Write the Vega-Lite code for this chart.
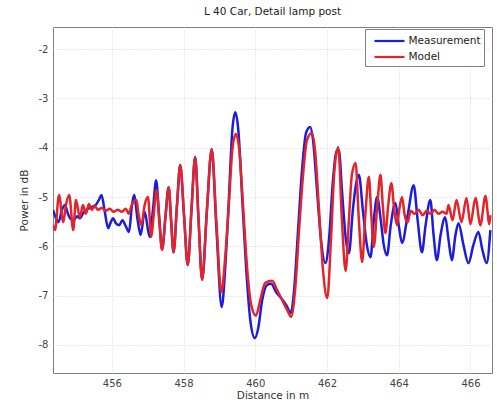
{
"$schema": "https://vega.github.io/schema/vega-lite/v6.json",
"width": 439, "height": 346,
"autosize": {"type": "none"},
"padding": {"left": 53, "top": 27, "right": 5, "bottom": 30},
"background": "white",
"config": {"font": "DejaVu Sans", "view": {"stroke": "#7f7f7f", "strokeWidth": 1}},
"title": {"text": "L 40 Car, Detail lamp post", "fontSize": 10.5, "fontWeight": "normal", "color": "#222222", "offset": 10},
"datasets": {
"meas": [
{"x":454.36,"y":-5.26},{"x":454.443,"y":-5.43},{"x":454.513,"y":-5.51},{"x":454.61,"y":-5.26},{"x":454.693,"y":-5.16},{"x":454.777,"y":-5.34},{"x":454.86,"y":-5.45},{"x":454.943,"y":-5.47},{"x":455.027,"y":-5.39},{"x":455.11,"y":-5.43},{"x":455.221,"y":-5.30},{"x":455.332,"y":-5.24},{"x":455.443,"y":-5.20},{"x":455.554,"y":-5.16},{"x":455.638,"y":-5.06},{"x":455.713,"y":-4.96},{"x":455.804,"y":-5.30},{"x":455.896,"y":-5.63},{"x":455.971,"y":-5.51},{"x":456.035,"y":-5.43},{"x":456.11,"y":-5.53},{"x":456.202,"y":-5.57},{"x":456.296,"y":-5.47},{"x":456.388,"y":-5.59},{"x":456.479,"y":-5.71},{"x":456.554,"y":-5.22},{"x":456.618,"y":-4.96},{"x":456.721,"y":-5.47},{"x":456.804,"y":-5.77},{"x":456.916,"y":-5.30},{"x":457.054,"y":-5.81},{"x":457.152,"y":-5.22},{"x":457.235,"y":-4.66},{"x":457.318,"y":-5.37},{"x":457.402,"y":-6.07},{"x":457.499,"y":-5.37},{"x":457.582,"y":-4.80},{"x":457.652,"y":-5.47},{"x":457.721,"y":-6.12},{"x":457.818,"y":-5.16},{"x":457.907,"y":-4.35},{"x":458.013,"y":-5.37},{"x":458.118,"y":-6.38},{"x":458.221,"y":-5.26},{"x":458.324,"y":-4.19},{"x":458.416,"y":-5.43},{"x":458.518,"y":-6.68},{"x":458.652,"y":-5.26},{"x":458.785,"y":-4.03},{"x":458.916,"y":-5.63},{"x":459.063,"y":-7.23},{"x":459.166,"y":-6.38},{"x":459.249,"y":-5.26},{"x":459.36,"y":-3.64},{"x":459.443,"y":-3.28},{"x":459.527,"y":-3.64},{"x":459.638,"y":-5.06},{"x":459.749,"y":-6.48},{"x":459.86,"y":-7.49},{"x":459.985,"y":-7.86},{"x":460.082,"y":-7.66},{"x":460.193,"y":-7.09},{"x":460.332,"y":-6.78},{"x":460.443,"y":-6.76},{"x":460.582,"y":-6.93},{"x":460.721,"y":-7.05},{"x":460.86,"y":-7.19},{"x":460.991,"y":-7.35},{"x":461.082,"y":-6.89},{"x":461.193,"y":-5.67},{"x":461.304,"y":-4.45},{"x":461.416,"y":-3.70},{"x":461.527,"y":-3.58},{"x":461.61,"y":-3.84},{"x":461.721,"y":-4.86},{"x":461.832,"y":-5.87},{"x":461.957,"y":-6.34},{"x":462.054,"y":-5.87},{"x":462.166,"y":-4.66},{"x":462.277,"y":-4.05},{"x":462.332,"y":-4.05},{"x":462.416,"y":-4.86},{"x":462.527,"y":-5.87},{"x":462.61,"y":-6.14},{"x":462.721,"y":-5.26},{"x":462.804,"y":-4.76},{"x":462.888,"y":-4.55},{"x":462.999,"y":-5.26},{"x":463.11,"y":-5.97},{"x":463.213,"y":-6.22},{"x":463.304,"y":-5.47},{"x":463.396,"y":-5.00},{"x":463.499,"y":-5.47},{"x":463.582,"y":-5.97},{"x":463.674,"y":-6.18},{"x":463.777,"y":-5.57},{"x":463.907,"y":-5.12},{"x":463.999,"y":-5.57},{"x":464.091,"y":-5.93},{"x":464.249,"y":-5.37},{"x":464.416,"y":-4.76},{"x":464.527,"y":-5.47},{"x":464.646,"y":-6.12},{"x":464.749,"y":-5.57},{"x":464.88,"y":-5.06},{"x":464.971,"y":-5.77},{"x":465.063,"y":-6.28},{"x":465.166,"y":-5.77},{"x":465.296,"y":-5.41},{"x":465.388,"y":-5.87},{"x":465.48,"y":-6.28},{"x":465.582,"y":-5.77},{"x":465.666,"y":-5.53},{"x":465.804,"y":-5.97},{"x":465.943,"y":-6.34},{"x":466.082,"y":-5.97},{"x":466.221,"y":-5.71},{"x":466.332,"y":-6.07},{"x":466.452,"y":-6.34},{"x":466.554,"y":-5.67}
],
"model": [
{"x":454.36,"y":-5.57},{"x":454.416,"y":-5.67},{"x":454.527,"y":-4.96},{"x":454.646,"y":-5.51},{"x":454.721,"y":-5.16},{"x":454.813,"y":-4.96},{"x":454.924,"y":-5.67},{"x":454.999,"y":-5.06},{"x":455.11,"y":-5.41},{"x":455.193,"y":-5.16},{"x":455.277,"y":-5.34},{"x":455.36,"y":-5.14},{"x":455.443,"y":-5.26},{"x":455.527,"y":-5.18},{"x":455.61,"y":-5.26},{"x":455.721,"y":-5.22},{"x":455.832,"y":-5.28},{"x":455.943,"y":-5.24},{"x":456.054,"y":-5.30},{"x":456.166,"y":-5.26},{"x":456.277,"y":-5.30},{"x":456.388,"y":-5.24},{"x":456.471,"y":-5.34},{"x":456.554,"y":-5.16},{"x":456.685,"y":-5.06},{"x":456.749,"y":-5.37},{"x":456.824,"y":-5.57},{"x":456.916,"y":-5.16},{"x":457.007,"y":-5.00},{"x":457.102,"y":-5.81},{"x":457.166,"y":-5.37},{"x":457.249,"y":-4.86},{"x":457.332,"y":-5.57},{"x":457.402,"y":-6.07},{"x":457.499,"y":-5.37},{"x":457.591,"y":-4.80},{"x":457.652,"y":-5.47},{"x":457.721,"y":-6.12},{"x":457.818,"y":-5.16},{"x":457.907,"y":-4.35},{"x":458.013,"y":-5.37},{"x":458.118,"y":-6.38},{"x":458.221,"y":-5.26},{"x":458.324,"y":-4.19},{"x":458.416,"y":-5.43},{"x":458.518,"y":-6.68},{"x":458.652,"y":-5.26},{"x":458.785,"y":-4.03},{"x":458.916,"y":-5.51},{"x":459.054,"y":-6.93},{"x":459.166,"y":-6.18},{"x":459.263,"y":-5.16},{"x":459.36,"y":-4.05},{"x":459.457,"y":-3.72},{"x":459.554,"y":-4.05},{"x":459.666,"y":-5.26},{"x":459.777,"y":-6.48},{"x":459.888,"y":-7.19},{"x":460.018,"y":-7.41},{"x":460.138,"y":-7.09},{"x":460.277,"y":-6.74},{"x":460.471,"y":-6.70},{"x":460.61,"y":-6.89},{"x":460.749,"y":-7.09},{"x":460.888,"y":-7.29},{"x":460.999,"y":-7.43},{"x":461.11,"y":-6.89},{"x":461.221,"y":-5.67},{"x":461.332,"y":-4.55},{"x":461.443,"y":-3.84},{"x":461.574,"y":-3.70},{"x":461.666,"y":-4.05},{"x":461.777,"y":-5.26},{"x":461.888,"y":-6.48},{"x":462.007,"y":-7.05},{"x":462.11,"y":-5.87},{"x":462.207,"y":-4.45},{"x":462.313,"y":-3.99},{"x":462.416,"y":-5.47},{"x":462.518,"y":-6.50},{"x":462.61,"y":-5.47},{"x":462.693,"y":-4.55},{"x":462.796,"y":-4.31},{"x":462.888,"y":-5.47},{"x":462.98,"y":-6.32},{"x":463.068,"y":-5.37},{"x":463.166,"y":-4.59},{"x":463.235,"y":-5.37},{"x":463.304,"y":-6.01},{"x":463.402,"y":-5.16},{"x":463.49,"y":-4.55},{"x":463.554,"y":-5.16},{"x":463.629,"y":-5.73},{"x":463.707,"y":-5.16},{"x":463.796,"y":-4.72},{"x":463.874,"y":-5.26},{"x":463.952,"y":-5.57},{"x":464.013,"y":-5.26},{"x":464.091,"y":-5.00},{"x":464.166,"y":-5.37},{"x":464.249,"y":-5.51},{"x":464.332,"y":-5.28},{"x":464.443,"y":-5.34},{"x":464.554,"y":-5.26},{"x":464.666,"y":-5.37},{"x":464.777,"y":-5.28},{"x":464.888,"y":-5.34},{"x":464.999,"y":-5.26},{"x":465.11,"y":-5.34},{"x":465.221,"y":-5.30},{"x":465.332,"y":-5.34},{"x":465.388,"y":-5.16},{"x":465.499,"y":-5.47},{"x":465.61,"y":-5.06},{"x":465.749,"y":-5.51},{"x":465.888,"y":-5.02},{"x":465.999,"y":-5.55},{"x":466.138,"y":-5.02},{"x":466.277,"y":-5.57},{"x":466.416,"y":-4.98},{"x":466.527,"y":-5.55},{"x":466.554,"y":-5.37}
]
},
"layer": [
{
"data": {"name": "meas"},
"transform": [{"calculate": "'Measurement'", "as": "series"}],
"mark": {"type": "line", "interpolate": "monotone", "strokeWidth": 2.5, "clip": true},
"encoding": {
"x": {"field": "x", "type": "quantitative", "scale": {"domain": [454.36, 466.6], "nice": false, "zero": false},
"axis": {"title": "Distance in m", "values": [456, 458, 460, 462, 464, 466], "labelExpr": "datum.value + ''", "grid": true, "gridColor": "#d4d4d4", "gridDash": [1, 2], "domain": false, "ticks": false, "labelFontSize": 10, "labelColor": "#444444", "titleFontSize": 10.5, "titleFontWeight": "normal", "titleColor": "#333333", "labelPadding": 5, "titlePadding": 2}},
"y": {"field": "y", "type": "quantitative", "scale": {"domain": [-8.57, -1.55], "nice": false, "zero": false},
"axis": {"title": "Power in dB", "values": [-8, -7, -6, -5, -4, -3, -2], "labelExpr": "datum.value + ''", "grid": true, "gridColor": "#d4d4d4", "gridDash": [1, 2], "domain": false, "ticks": false, "labelFontSize": 10, "labelColor": "#444444", "titleFontSize": 10.5, "titleFontWeight": "normal", "titleColor": "#333333", "labelPadding": 5, "titlePadding": 9}},
"color": {"field": "series", "type": "nominal", "scale": {"domain": ["Measurement", "Model"], "range": ["#1c1cdc", "#e3242b"]},
"legend": {"title": null, "orient": "none", "legendX": 312, "legendY": 2, "strokeColor": "#808080", "fillColor": "white", "padding": 3, "symbolType": "M-2,0H2", "symbolSize": 225, "symbolStrokeWidth": 2.2, "symbolOffset": 12.5, "labelOffset": 10, "labelFontSize": 10.5, "labelColor": "#222222", "rowPadding": 1}}
}
},
{
"data": {"name": "model"},
"transform": [{"calculate": "'Model'", "as": "series"}],
"mark": {"type": "line", "interpolate": "monotone", "strokeWidth": 2.5, "clip": true},
"encoding": {
"x": {"field": "x", "type": "quantitative"},
"y": {"field": "y", "type": "quantitative"},
"color": {"field": "series", "type": "nominal"}
}
}
]
}
